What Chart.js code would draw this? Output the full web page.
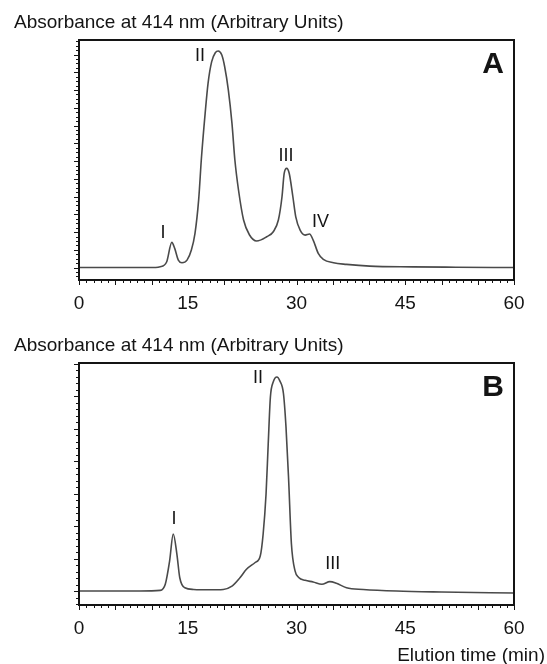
<!DOCTYPE html>
<html>
<head>
<meta charset="utf-8">
<script src="https://cdn.jsdelivr.net/npm/chart.js@4.4.1/dist/chart.umd.min.js"></script>
<style>
    body { margin: 0; width: 547px; height: 664px; overflow: hidden; position: relative; background: #fff; color: #141414; font-family: "Liberation Sans", Arial, sans-serif; }
    .panel { position: absolute; left: 0; }
    #panel-a { top: 0; }
    #panel-b { top: 330px; }
    .axis-title { position: absolute; font-size: 19px; line-height: 22px; white-space: nowrap; }
    #y-title-a { left: 14px; top: 11px; }
    #y-title-b { left: 14px; top: 334px; }
    #x-title-b { right: 2px; top: 644px; }
</style>
</head>
<body>
<div class="panel" id="panel-a"><canvas id="chromatogram-a" width="547" height="330"></canvas></div>
<div class="panel" id="panel-b"><canvas id="chromatogram-b" width="547" height="334"></canvas></div>
<div class="axis-title" id="y-title-a">Absorbance at 414 nm (Arbitrary Units)</div>
<div class="axis-title" id="y-title-b">Absorbance at 414 nm (Arbitrary Units)</div>
<div class="axis-title" id="x-title-b">Elution time (min)</div>

<script>
// elution time (min) and absorbance (arbitrary units, baseline = 0)
const elutionTimeA = [0, 5, 9.7, 11.2, 12.1, 12.8, 13.2, 13.7, 14.2, 14.9, 15.5, 16.0, 16.5, 16.9, 17.4, 17.8, 18.3, 18.8, 19.2, 19.7,
    20.1, 20.6, 21.1, 21.5, 22.0, 22.7, 23.5, 24.5, 25.9, 26.8, 27.5, 28.0, 28.3, 28.65, 29.0, 29.5, 29.9, 30.5, 31.2, 31.8,
    32.3, 33.0, 33.7, 35.1, 36.9, 40.1, 46, 52, 60];
const absorbanceA = [0, 0, 0, 0.05, 0.33, 1.42, 1.08, 0.42, 0.27, 0.42, 0.99, 1.93, 3.8, 6.24, 8.69, 10.38, 11.6, 12.1, 12.2, 11.97,
    11.3, 10.0, 8.12, 6.06, 4.37, 2.68, 1.85, 1.5, 1.74, 2.02, 2.68, 3.99, 5.3, 5.59, 5.3, 3.99, 2.86, 2.11, 1.83, 1.89,
    1.55, 0.8, 0.46, 0.27, 0.18, 0.08, 0.04, 0.02, 0];

const elutionTimeB = [0, 8.4, 11.2, 11.9, 12.5, 13.0, 13.5, 13.9, 14.6, 15.8, 18, 19.9, 21.1, 22.2, 23.1, 24.3, 25.0, 25.4, 25.8, 26.1,
    26.4, 26.8, 27.3, 27.7, 28.2, 28.55, 28.9, 29.3, 29.8, 30.3, 31.2, 32.3, 33.5, 34.6, 35.5, 36.9, 39.2, 43.8, 50, 60];
const absorbanceB = [0, 0, 0.02, 0.21, 0.93, 1.76, 1.14, 0.41, 0.1, 0.05, 0.04, 0.05, 0.15, 0.41, 0.67, 0.88, 1.08, 1.76, 2.99, 4.54,
    5.98, 6.45, 6.6, 6.48, 6.09, 5.06, 3.51, 1.45, 0.62, 0.42, 0.33, 0.28, 0.21, 0.29, 0.24, 0.1, 0.05, 0, -0.03, -0.06];

const xTickValues = [0, 15, 30, 45, 60];

// peak names, anchored at (min, absorbance)
const peakNamesA = ['I', 'II', 'III', 'IV'];
const peakTimesA = [11.6, 16.7, 28.55, 33.3];
const peakLevelsA = [1.94, 11.9, 6.28, 2.58];

const peakNamesB = ['I', 'II', 'III'];
const peakTimesB = [13.1, 24.7, 35.0];
const peakLevelsB = [2.23, 6.56, 0.84];

const FONT = '"Liberation Sans", Arial, sans-serif';
const INK = '#141414';

const chromatogramFrame = {
    id: 'chromatogramFrame',
    afterDraw: function (chart, args, opts) {
        const ctx = chart.ctx;
        const area = chart.chartArea;
        const x = chart.scales.x;
        const y = chart.scales.y;

        ctx.save();
        ctx.strokeStyle = INK;
        ctx.lineWidth = 1;

        // minor / major ticks on the time axis, pointing down
        for (let i = 0; i <= 60; i++) {
            const px = Math.round(x.getPixelForValue(i)) + 0.5;
            const len = i % 5 === 0 ? 5 : 3;
            ctx.beginPath();
            ctx.moveTo(px, area.bottom);
            ctx.lineTo(px, area.bottom + len);
            ctx.stroke();
        }

        // unlabeled ticks on the absorbance axis, pointing left
        const sub = opts.subTicks;
        const first = Math.ceil(y.min * sub);
        const last = Math.floor(y.max * sub);
        for (let k = first; k <= last; k++) {
            const py = Math.round(y.getPixelForValue(k / sub)) + 0.5;
            const len = k % sub === 0 ? 5 : 3;
            ctx.beginPath();
            ctx.moveTo(area.left, py);
            ctx.lineTo(area.left - len, py);
            ctx.stroke();
        }

        ctx.lineWidth = 2;
        ctx.strokeRect(area.left, area.top, area.right - area.left, area.bottom - area.top);

        ctx.fillStyle = INK;
        ctx.textAlign = 'center';
        ctx.textBaseline = 'middle';
        ctx.font = '18px ' + FONT;
        opts.names.forEach(function (name, i) {
            ctx.fillText(name, x.getPixelForValue(opts.times[i]), y.getPixelForValue(opts.levels[i]));
        });

        ctx.font = 'bold 30px ' + FONT;
        ctx.fillText(opts.letter, area.right - 21, area.top + 25);
        ctx.restore();
    }
};

const chromatograms = {
    init: function () {
        if (typeof Chart == "undefined") {
            console.log('Chart.js not found.');
            return;
        }
        this.generateCharts();
    },
    generateCharts: function () {
        if (document.getElementById('chromatogram-a')) this.generatePanel('chromatogram-a', elutionTimeA, absorbanceA, {
            letter: 'A', names: peakNamesA, times: peakTimesA, levels: peakLevelsA,
            yMin: -0.70, yMax: 12.82, subTicks: 4, top: 40, axisHeight: 50
        });
        if (document.getElementById('chromatogram-b')) this.generatePanel('chromatogram-b', elutionTimeB, absorbanceB, {
            letter: 'B', names: peakNamesB, times: peakTimesB, levels: peakLevelsB,
            yMin: -0.43, yMax: 7.03, subTicks: 5, top: 33, axisHeight: 59
        });
    },
    generatePanel: function (canvasId, times, values, panel) {
        const points = times.map(function (t, i) {
            return {x: t, y: values[i]};
        });
        const ctx = document.getElementById(canvasId).getContext('2d');
        new Chart(ctx, {
            type: 'line',
            data: {
                datasets: [{
                    data: points,
                    borderColor: '#4a4a4a',
                    borderWidth: 1.6,
                    pointRadius: 0,
                    fill: false,
                    cubicInterpolationMode: 'monotone'
                }]
            },
            options: {
                responsive: false,
                animation: false,
                layout: {
                    padding: {left: 79, right: 33, top: panel.top, bottom: 0}
                },
                plugins: {
                    legend: {display: false},
                    tooltip: {enabled: false},
                    chromatogramFrame: panel
                },
                scales: {
                    x: {
                        type: 'linear',
                        min: 0,
                        max: 60,
                        border: {display: false},
                        grid: {display: false, drawTicks: false},
                        afterBuildTicks: function (scale) {
                            scale.ticks = xTickValues.map(function (v) {
                                return {value: v};
                            });
                        },
                        afterFit: function (scale) {
                            scale.height = panel.axisHeight;
                        },
                        ticks: {
                            padding: 12,
                            maxRotation: 0,
                            autoSkip: false,
                            color: INK,
                            font: {family: FONT, size: 19}
                        }
                    },
                    y: {
                        display: false,
                        min: panel.yMin,
                        max: panel.yMax
                    }
                }
            },
            plugins: [chromatogramFrame]
        });
    }
};

chromatograms.init();
</script>
</body>
</html>
